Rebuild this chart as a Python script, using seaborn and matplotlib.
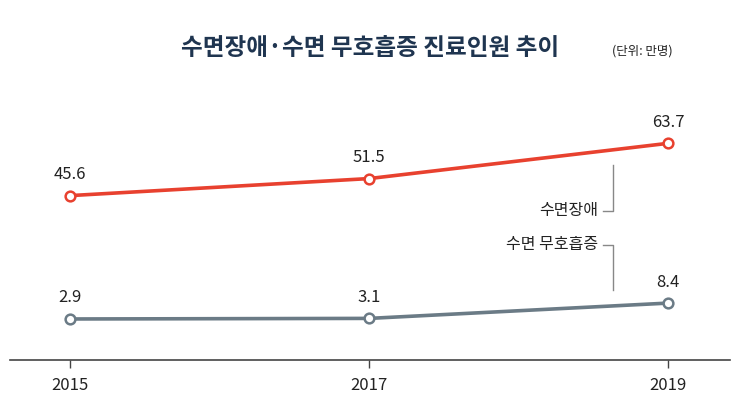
import matplotlib
matplotlib.use("Agg")
import matplotlib.pyplot as plt
import seaborn as sns
import pandas as pd

plt.rcParams["font.family"] = ["Noto Sans CJK KR", "Noto Sans CJK JP", "Noto Sans CJK SC",
                               "Noto Sans CJK TC", "DejaVu Sans"]

years = [2015, 2017, 2019]
sleep_disorder = [45.6, 51.5, 63.7]
sleep_apnea = [2.9, 3.1, 8.4]
series_names = ["수면장애", "수면 무호흡증"]
colors = ["#e8412f", "#6b7b86"]

W, H = 740, 420
fig = plt.figure(figsize=(W / 100, H / 100), dpi=100)
ax = fig.add_axes([0, 60 / H, 1, 1 - 60 / H])

for vals, c in zip((sleep_disorder, sleep_apnea), colors):
    sns.lineplot(x=years, y=vals, color=c, marker="o", markersize=7,
                 markerfacecolor="white", markeredgecolor=c, markeredgewidth=1.8,
                 linewidth=2.6, ax=ax)
    for x, v in zip(years, vals):
        ax.annotate(f"{v}", (x, v), xytext=(0, 9), textcoords="offset points",
                    ha="center", va="bottom", fontsize=12, color="#222222")

ax.set_xlim(2014.53, 2019.48)
ax.set_ylim(-11.3, 113.3)

def px(x, y):
    # figure pixel -> data
    return ax.transData.inverted().transform(fig.transFigure.transform((x / W, 1 - y / H)))

for s in ax.spines.values():
    s.set_visible(False)
ax.axhline(-11.3, xmin=10 / W, xmax=730 / W, color="#444444", linewidth=1.2, clip_on=False)
ax.set_xticks(years)
ax.set_xticklabels([str(y) for y in years], fontsize=12, color="#222222")
ax.tick_params(axis="x", length=6, width=1, color="#444444", pad=6)
ax.set_yticks([])
ax.set_xlabel("")
ax.set_ylabel("")
ax.grid(False)
ax.set_facecolor("white")

def line(pts):
    d = [px(x, y) for x, y in pts]
    ax.plot([p[0] for p in d], [p[1] for p in d], color="#888888", linewidth=1, clip_on=False)

x0, y0 = px(598, 211)
ax.text(x0, y0, series_names[0], ha="right", va="center", fontsize=11.5, color="#222222")
line([(613, 165), (613, 211), (603, 211)])
x1, y1 = px(598, 245)
ax.text(x1, y1, series_names[1], ha="right", va="center", fontsize=11.5, color="#222222")
line([(603, 245), (613, 245), (613, 290)])

fig.text(370 / W, 1 - 48 / H, "수면장애·수면 무호흡증 진료인원 추이", ha="center", va="center",
         fontsize=17, fontweight="bold", color="#1f3550")
fig.text(612 / W, 1 - 51 / H, "(단위: 만명)", ha="left", va="center", fontsize=9, color="#222222")

fig.savefig("out.png", dpi=100, facecolor="white")
